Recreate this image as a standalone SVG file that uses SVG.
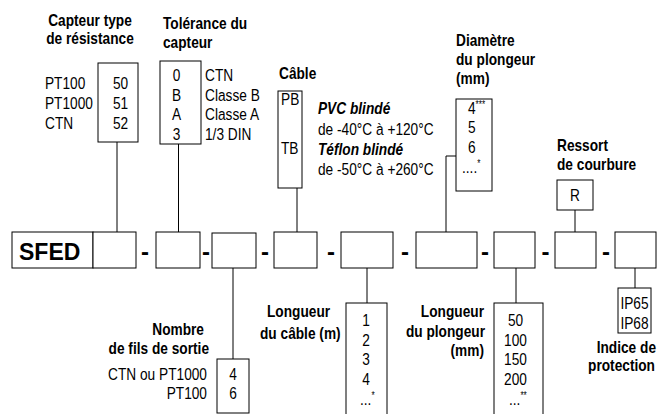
<svg xmlns="http://www.w3.org/2000/svg" width="662" height="414" viewBox="0 0 662 414">
<style>
.b{fill:#fff;stroke:#000;stroke-width:1}
.t,.h,.bi{font-family:"Liberation Sans",Arial,sans-serif;font-size:16.7px;fill:#000;transform:scale(0.82,1)}
.h,.bi{font-weight:bold}
.bi{font-style:italic}
.m{text-anchor:middle}
.e{text-anchor:end}
.d{font-family:"Liberation Sans",Arial,sans-serif;font-size:24px;font-weight:bold;fill:#000;text-anchor:middle}
.sup{font-size:10px}
.c{stroke:#000;stroke-width:1;fill:none}
</style>
<rect width="662" height="414" fill="#fff"/>
<g id="connectors">
<path class="c" d="M117 142V232"/>
<path class="c" d="M178.5 144V232"/>
<path class="c" d="M233 268V359"/>
<path class="c" d="M297 188V232"/>
<path class="c" d="M367 268V303"/>
<path class="c" d="M446 232V156H456"/>
<path class="c" d="M516 268V303"/>
<path class="c" d="M575 210V232"/>
<path class="c" d="M635 268V288"/>
</g>
<g id="main-row">
<rect class="b" x="12" y="232" width="81" height="36"/>
<text x="19" y="260" style="font-family:'Liberation Sans',Arial,sans-serif;font-size:23px;font-weight:bold">SFED</text>
<rect class="b" x="93" y="232" width="43" height="36"/>
<text class="d" x="145" y="260">-</text>
<rect class="b" x="156" y="232" width="44" height="36"/>
<text class="d" x="206" y="260">-</text>
<rect class="b" x="212" y="233" width="44" height="35"/>
<text class="d" x="265" y="260">-</text>
<rect class="b" x="274" y="232" width="43" height="36"/>
<text class="d" x="331" y="260">-</text>
<rect class="b" x="341" y="232" width="52" height="36"/>
<text class="d" x="405" y="260">-</text>
<rect class="b" x="416" y="232" width="61" height="36"/>
<text class="d" x="485" y="260">-</text>
<rect class="b" x="494" y="232" width="41" height="36"/>
<text class="d" x="545.5" y="260">-</text>
<rect class="b" x="555" y="232" width="41" height="36"/>
<text class="d" x="606" y="260">-</text>
<rect class="b" x="615" y="232" width="41" height="36"/>
</g>
<g id="type-resistance">
<text class="h m" x="109.76" y="26">Capteur type</text>
<text class="h m" x="109.76" y="44">de résistance</text>
<rect class="b" x="98" y="63" width="40" height="79"/>
<text class="t" x="54.88" y="89">PT100</text>
<text class="t" x="54.88" y="109">PT1000</text>
<text class="t" x="54.88" y="129">CTN</text>
<text class="t" x="137.8" y="89">50</text>
<text class="t" x="137.8" y="109">51</text>
<text class="t" x="137.8" y="129">52</text>
</g>
<g id="tolerance">
<text class="h" x="198.78" y="29">Tolérance du</text>
<text class="h" x="198.78" y="48">capteur</text>
<rect class="b" x="160" y="61" width="41" height="83"/>
<text class="t m" x="215.24" y="81.5">0</text>
<text class="t m" x="215.24" y="101.5">B</text>
<text class="t m" x="215.24" y="120.5">A</text>
<text class="t m" x="215.24" y="140">3</text>
<text class="t" x="250" y="81.5">CTN</text>
<text class="t" x="250" y="101.5">Classe B</text>
<text class="t" x="250" y="120.5">Classe A</text>
<text class="t" x="250" y="140">1/3 DIN</text>
</g>
<g id="cable">
<text class="h" x="340.24" y="79">Câble</text>
<rect class="b" x="278" y="91" width="24" height="97"/>
<text class="t" x="342.68" y="105">PB</text>
<text class="t" x="342.68" y="154">TB</text>
<text class="bi" x="387.8" y="114">PVC blindé</text>
<text class="t" x="387.8" y="135">de -40°C à +120°C</text>
<text class="bi" x="387.8" y="155">Téflon blindé</text>
<text class="t" x="387.8" y="175">de -50°C à +260°C</text>
</g>
<g id="diametre">
<text class="h" x="556.1" y="46">Diamètre</text>
<text class="h" x="556.1" y="65">du plongeur</text>
<text class="h" x="556.1" y="84">(mm)</text>
<rect class="b" x="456" y="99" width="36" height="92"/>
<text class="t" x="570.73" y="114">4<tspan class="sup" dy="-6">***</tspan></text>
<text class="t" x="570.73" y="133.5">5</text>
<text class="t" x="570.73" y="153">6</text>
<text class="t" x="563.41" y="173">....<tspan class="sup" dy="-6">*</tspan></text>
</g>
<g id="ressort">
<text class="h" x="679.27" y="151">Ressort</text>
<text class="h" x="679.27" y="170">de courbure</text>
<rect class="b" x="557" y="180" width="36" height="30"/>
<text class="t m" x="701.22" y="201">R</text>
</g>
<g id="fils">
<text class="h e" x="248.78" y="335">Nombre</text>
<text class="h e" x="254.88" y="354">de fils de sortie</text>
<text class="t e" x="252.44" y="380">CTN ou PT1000</text>
<text class="t e" x="252.44" y="399">PT100</text>
<rect class="b" x="217" y="359" width="32" height="54"/>
<text class="t m" x="284.15" y="380">4</text>
<text class="t m" x="284.15" y="399">6</text>
</g>
<g id="longueur-cable">
<text class="h" x="325.61" y="317">Longueur</text>
<text class="h" x="317.07" y="339">du câble (m)</text>
<rect class="b" x="346" y="303" width="41" height="120"/>
<text class="t m" x="446.34" y="326.5">1</text>
<text class="t m" x="446.34" y="346">2</text>
<text class="t m" x="446.34" y="365.5">3</text>
<text class="t m" x="446.34" y="385">4</text>
<text class="t" x="439.02" y="405">...<tspan class="sup" dy="-6">*</tspan></text>
</g>
<g id="longueur-plongeur">
<text class="h e" x="590.24" y="317">Longueur</text>
<text class="h e" x="591.46" y="337">du plongeur</text>
<text class="h e" x="590.24" y="356">(mm)</text>
<rect class="b" x="494" y="303" width="49" height="120"/>
<text class="t m" x="628.66" y="326.5">50</text>
<text class="t m" x="628.66" y="346">100</text>
<text class="t m" x="628.66" y="365.5">150</text>
<text class="t m" x="628.66" y="385">200</text>
<text class="t" x="620.73" y="405">...<tspan class="sup" dy="-6">**</tspan></text>
</g>
<g id="protection">
<rect class="b" x="618" y="288" width="33" height="45"/>
<text class="t m" x="773.78" y="309">IP65</text>
<text class="t m" x="773.78" y="329">IP68</text>
<text class="h e" x="800" y="353">Indice de</text>
<text class="h e" x="798.78" y="371">protection</text>
</g>
</svg>
